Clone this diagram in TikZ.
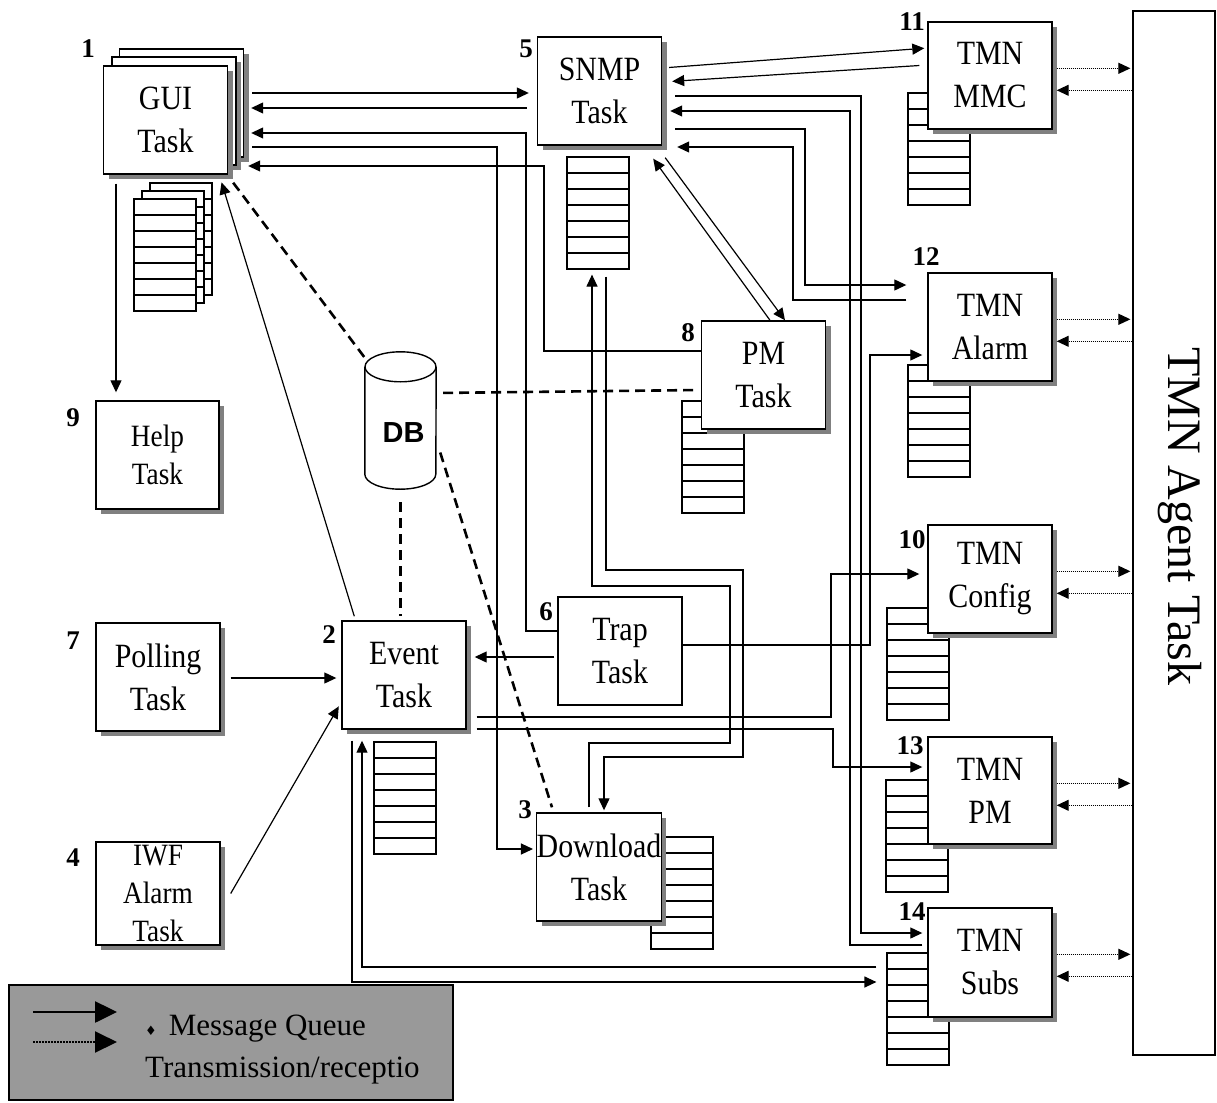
\documentclass[tikz,border=0pt]{standalone}
\usepackage{fontspec}
\setmainfont{Liberation Serif}
\newfontfamily\boxfont{Liberation Serif}[FakeStretch=0.88]
\newfontfamily\dbfont{Liberation Sans}
\newfontfamily\symfont{DejaVu Sans}
\usetikzlibrary{arrows.meta,shadows}

\tikzset{
  task/.style={draw, line width=1.4pt, fill=white, minimum width=124pt,
    minimum height=108pt, inner sep=0pt, align=center,
    font=\boxfont\fontsize{34}{43}\selectfont},
  shaded/.style={task, drop shadow={shadow xshift=5pt, shadow yshift=-5pt,
    fill=black!50, opacity=1}},
  small/.style={font=\boxfont\fontsize{31}{38}\selectfont},
  queue/.style={draw, line width=1.2pt, fill=white, minimum width=62pt,
    minimum height=112pt, inner sep=0pt,
    path picture={\foreach \k in {1,...,6}
      \draw[line width=1.2pt] ([yshift=-\k*16pt]path picture bounding box.north west)
        -- ([yshift=-\k*16pt]path picture bounding box.north east);}},
  num/.style={font=\fontsize{27}{27}\selectfont\bfseries, inner sep=0pt},
  msg/.style={line width=1.2pt, -{Triangle[length=12pt,width=11pt]}},
  rx/.style={line width=1.1pt, dash pattern=on 1pt off 1pt,
    -{Triangle[length=12pt,width=11pt]}},
  dbline/.style={line width=2.6pt, dash pattern=on 10pt off 6pt},
}

\begin{document}
\begin{tikzpicture}[x=1pt,y=-1pt]
\useasboundingbox (0,0) rectangle (1217,1102);

% message queues (behind the tasks)
\node[queue] (guiq3) at (181,239) {};
\node[queue] (guiq2) at (173,247) {};
\node[queue] (guiq) at (165,255) {};
\node[queue] (snmpq) at (598,213) {};
\node[queue] (eventq) at (405,798) {};
\node[queue] (pmq) at (713,457) {};
\node[queue] (downq) at (682,893) {};
\node[queue] (mmcq) at (939,149) {};
\node[queue] (alarmq) at (939,421) {};
\node[queue] (configq) at (918,664) {};
\node[queue] (tmnpmq) at (917,836) {};
\node[queue] (subsq) at (918,1009) {};

% tasks
\node[shaded] (gui3) at (181.5,103) {};
\node[shaded] (gui2) at (174,111) {};
\node[shaded] (gui) at (165.5,120) {GUI\\Task};
\node[shaded, small, minimum width=123pt] (help) at (157.5,455) {Help\\Task};
\node[shaded] (polling) at (158,677) {Polling\\Task};
\node[shaded, small, minimum height=103pt] (iwf) at (158,893.5) {IWF\\Alarm\\Task};
\node[shaded] (event) at (404,675) {Event\\Task};
\node[task] (trap) at (620,651) {Trap\\Task};
\node[shaded] (download) at (599,867) {Download\\Task};
\node[shaded] (snmp) at (599.5,91) {SNMP\\Task};
\node[shaded] (pm) at (763.5,375) {PM\\Task};
\node[shaded, minimum height=107pt] (mmc) at (990,75.5) {TMN\\MMC};
\node[shaded] (alarm) at (990,327) {TMN\\Alarm};
\node[shaded] (config) at (990,579) {TMN\\Config};
\node[shaded, minimum height=107pt] (tmnpm) at (990,790.5) {TMN\\PM};
\node[shaded, minimum height=109pt] (subs) at (990,962.5) {TMN\\Subs};
\node[draw, line width=1.2pt, minimum width=82pt, minimum height=1044pt] (agent) at (1174,533) {};
\node[rotate=-90, font=\fontsize{48}{48}\selectfont] (agentlbl) at (1180,516) {TMN Agent Task};

% database
\node[minimum width=71pt, minimum height=137pt, inner sep=0pt] (db) at (400.5,420.5) {};
\draw[line width=1.4pt] ([yshift=-15pt]db.north west) -- ([yshift=15pt]db.south west)
  arc[start angle=180, end angle=360, x radius=35.5pt, y radius=15pt]
  -- ([yshift=-15pt]db.north east);
\draw[line width=1.4pt] ([yshift=-15pt]db.north) ellipse[x radius=35.5pt, y radius=15pt];
\node[font=\dbfont\bfseries\fontsize{29}{29}\selectfont, inner sep=0pt] (dblbl) at ([shift={(3,12)}]db.center) {DB};

% task numbers
\node[num] (n1) at (88,49) {1};
\node[num] (n2) at (329,635) {2};
\node[num] (n3) at (525,810) {3};
\node[num] (n4) at (73,858) {4};
\node[num] (n5) at (526,49) {5};
\node[num] (n6) at (546,612) {6};
\node[num] (n7) at (73,641) {7};
\node[num] (n8) at (688,333) {8};
\node[num] (n9) at (73,418) {9};
\node[num] (n10) at (912,540) {10};
\node[num] (n11) at (912,22) {11};
\node[num] (n12) at (926,257) {12};
\node[num] (n13) at (910,746) {13};
\node[num] (n14) at (912,912) {14};

% messages to and from the GUI
\draw[msg, shorten <=8pt, shorten >=8pt] (gui3.east |- 0,93) -- (snmp.west |- 0,93);
\draw[msg, shorten <=10pt, shorten >=7pt] (snmp.west |- 0,108) -- (gui3.east |- 0,108);
\draw[msg, shorten >=7pt] (trap.west |- 0,631) -| (526,133) -- (gui3.east |- 0,133);
\draw[msg, shorten <=8pt, shorten >=3pt] (gui3.east |- 0,147) -| (497,849) -- (download.west |- 0,849);
\draw[msg, shorten >=4pt] (pm.west |- 0,351) -| (544,166) -- (gui3.east |- 0,166);
\draw[msg, shorten <=9pt, shorten >=8pt] (gui.south -| 116,0) -- (help.north -| 116,0);
\draw[msg, shorten >=8pt] ([shift={(13,-4)}]event.north west) -- ([xshift=-9pt]gui.south east);

% messages to the event task
\draw[msg, shorten <=10pt, shorten >=5pt] (polling.east |- 0,678) -- (event.west |- 0,678);
\draw[msg, shorten >=5pt] ([xshift=10pt]iwf.east) -- (event.west |- 0,702);
\draw[msg, shorten <=3pt, shorten >=8pt] (trap.west |- 0,657) -- (event.east |- 0,657);
\draw[msg, shorten <=10pt, shorten >=8pt] (event.east |- 0,717) -| (831,574) -- (config.west |- 0,574);
\draw[msg, shorten <=10pt, shorten >=5pt] (event.east |- 0,729) -| (833,767) -- (tmnpm.west |- 0,767);
\draw[msg, shorten >=5pt] (trap.east |- 0,645) -| (870,355) -- (alarm.west |- 0,355);
\draw[msg, shorten <=11pt, shorten >=10pt] (event.south -| 352,0) |- (subsq.west |- 0,982);
\draw[msg, shorten <=10pt, shorten >=11pt] (subsq.west |- 0,967) -| (event.south -| 362,0);

% SNMP task
\draw[msg, shorten <=7pt, shorten >=3pt] (snmp.east |- 0,68) -- (mmc.west |- 0,48);
\draw[msg, shorten <=8pt, shorten >=10pt] (mmc.west |- 0,65) -- (snmp.east |- 0,82);
\draw[msg, shorten <=13pt, shorten >=5pt] (snmp.east |- 0,96) -| (861,933) -- (subs.west |- 0,933);
\draw[msg, shorten <=5pt, shorten >=8pt] (subs.west |- 0,945) -| (850,111) -- (snmp.east |- 0,111);
\draw[msg, shorten <=13pt, shorten >=21pt] (snmp.east |- 0,129) -| (805,285) -- (alarm.west |- 0,285);
\draw[msg, shorten <=21pt, shorten >=15pt] (alarm.west |- 0,300) -| (793,147) -- (snmp.east |- 0,147);
\draw[msg] ([shift={(3,12)}]snmp.south east) -- (pm.north -| 785,0);
\draw[msg] (pm.north -| 770,0) -- ([shift={(-9,13)}]snmp.south east);
\draw[msg, shorten <=7pt, shorten >=2pt] (snmpq.south -| 606,0) |- (743,570) |- (604,757) -- (download.north -| 604,0);
\draw[msg, shorten <=5pt, shorten >=5pt] (download.north -| 589,0) |- (730,743) |- (592,586) -- (snmpq.south -| 592,0);

% database access
\draw[dbline] ([shift={(5,8)}]gui.south east) -- ([yshift=-6pt]db.north west);
\draw[dbline, shorten <=7pt, shorten >=2pt] (db.east |- 0,393) -- (pm.west |- 0,390);
\draw[dbline, shorten <=13pt, shorten >=4pt] (db.south) -- (db.south |- event.north);
\draw[dbline] ([shift={(4,32)}]db.east) -- ([shift={(-47,-5)}]download.north);

% transmission to the agent
\foreach \b in {mmc,alarm,config,tmnpm,subs}{
  \coordinate (tx) at ([yshift=-47pt]\b.north east);
  \coordinate (rcv) at ([yshift=-69pt]\b.north east);
  \draw[rx, shorten <=4pt, shorten >=2pt] (tx) -- (tx -| agent.west);
  \draw[rx, shorten >=4pt] (rcv -| agent.west) -- (rcv);
}

% legend
\node[draw, line width=1.4pt, fill=black!40, minimum width=444pt, minimum height=115pt] (legend) at (231,1042.5) {};
\coordinate (keymsg) at (33,1012);
\coordinate (keyrx) at (33,1042);
\draw[line width=2.6pt, -{Triangle[length=22pt,width=21pt]}] (keymsg) -- ++(84,0);
\draw[line width=2pt, dash pattern=on 1.5pt off 1.5pt, -{Triangle[length=22pt,width=21pt]}] (keyrx) -- ++(84,0);
\node[anchor=base west, font=\fontsize{31}{31}\selectfont, inner sep=0pt] (keyq) at (145,1035)
  {{\symfont\fontsize{13}{13}\selectfont ♦}\hspace{12pt}Message Queue};
\node[anchor=base west, font=\fontsize{31}{31}\selectfont, inner sep=0pt] (keyt) at (145,1077) {Transmission/receptio};
\end{tikzpicture}
\end{document}
